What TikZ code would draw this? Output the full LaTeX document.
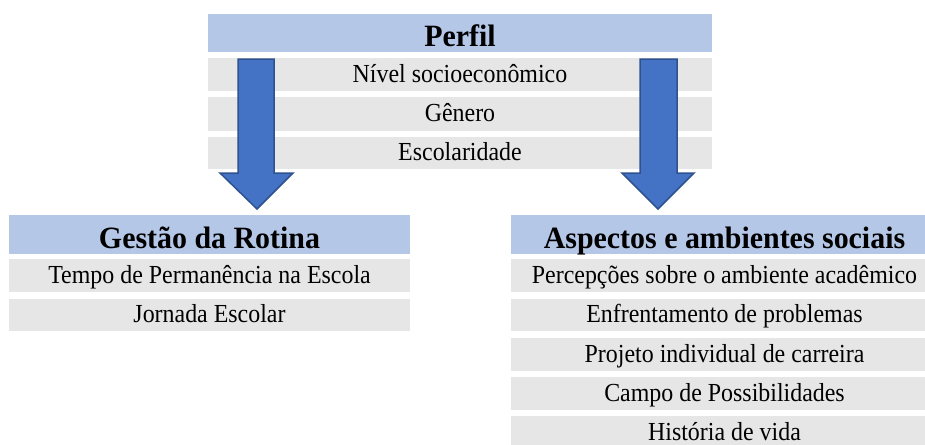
\documentclass[tikz,border=0pt]{standalone}
\usepackage{fontspec}
\setmainfont{Liberation Serif}
\newfontfamily\rowfont[FakeStretch=0.92]{Liberation Serif}
\newfontfamily\hdrfont[FakeStretch=0.965]{Liberation Serif}
\definecolor{hdr}{HTML}{B4C7E7}
\definecolor{rowgray}{HTML}{E7E6E6}
\definecolor{arrfill}{HTML}{4472C4}
\definecolor{arredge}{HTML}{2F528F}
\begin{document}
\begin{tikzpicture}[x=1pt,y=-1pt,
  hdrbox/.style={fill=hdr, inner sep=0pt, anchor=center,
    text height=28pt, text depth=1pt,
    font=\hdrfont\fontsize{31}{31}\selectfont\bfseries},
  rowbox/.style={fill=rowgray, inner sep=0pt, anchor=center,
    text height=20pt, text depth=4.4pt,
    font=\rowfont\fontsize{26}{26}\selectfont},
  blockarrow/.style={fill=arrfill, draw=arredge, line width=1.5pt, line join=miter}]
\useasboundingbox (0,0) rectangle (925,444);
\clip (0,0) rectangle (925,444);
\fill[white] (0,0) rectangle (925,444);

% Perfil
\node[hdrbox, minimum width=504pt, minimum height=38pt] (perfil) at (460,33) {Perfil};
\node[rowbox, minimum width=504pt, minimum height=33pt] (p1) at (460,74.5) {Nível socioeconômico};
\node[rowbox, minimum width=504pt, minimum height=34pt] (p2) at (460,114) {Gênero};
\node[rowbox, minimum width=504pt, minimum height=32pt] (p3) at (460,153) {Escolaridade};

% Gestao da Rotina
\node[hdrbox, minimum width=401pt, minimum height=39pt] (gestao) at (209.5,234.5) {Gestão da Rotina};
\node[rowbox, minimum width=401pt, minimum height=33pt] (g1) at (209.5,275.5) {Tempo de Permanência na Escola};
\node[rowbox, minimum width=401pt, minimum height=32pt] (g2) at (209.5,315) {Jornada Escolar};

% Aspectos e ambientes sociais
\node[hdrbox, minimum width=427pt, minimum height=39pt] (aspectos) at (724.5,234.5) {Aspectos e ambientes sociais};
\node[rowbox, minimum width=427pt, minimum height=33pt] (a1) at (724.5,275.5) {Percepções sobre o ambiente acadêmico};
\node[rowbox, minimum width=427pt, minimum height=32pt] (a2) at (724.5,315) {Enfrentamento de problemas};
\node[rowbox, minimum width=427pt, minimum height=33pt] (a3) at (724.5,354.5) {Projeto individual de carreira};
\node[rowbox, minimum width=427pt, minimum height=33pt] (a4) at (724.5,393.5) {Campo de Possibilidades};
\node[rowbox, minimum width=427pt, minimum height=33pt] (a5) at (724.5,432.5) {História de vida};

% Block arrows
\draw[blockarrow] (238,59) -- (274,59) -- (274,173) -- (293,173) -- (257,209)
  -- (220,173) -- (238,173) -- cycle;
\draw[blockarrow] (640,59) -- (677,59) -- (677,173) -- (694,173) -- (658,209)
  -- (622,173) -- (640,173) -- cycle;
\end{tikzpicture}
\end{document}
